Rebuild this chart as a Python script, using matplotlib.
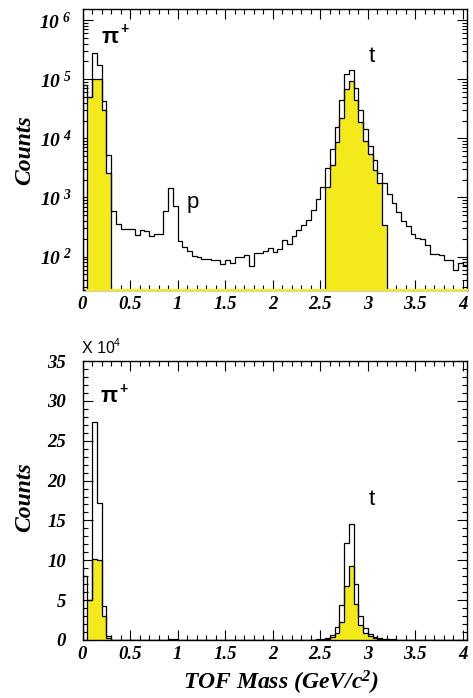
import numpy as np
import matplotlib
matplotlib.use("Agg")
import matplotlib.pyplot as plt
from matplotlib.ticker import LogLocator, FuncFormatter, MultipleLocator, NullFormatter

plt.rcParams['mathtext.fontset'] = 'custom'
plt.rcParams['mathtext.rm'] = 'Liberation Serif:bold:italic'
plt.rcParams['mathtext.it'] = 'Liberation Serif:bold:italic'
plt.rcParams['mathtext.bf'] = 'Liberation Serif:bold:italic'

# ---------------- data ----------------
bin_edges = np.round(np.arange(82) * 0.05, 2)  # 0 .. 4.05 GeV/c^2

total_counts = [
    8.0e4, 5.0e4, 2.74e5, 1.72e5, 4.3e4, 5.2e3, 580, 355, 297, 297,
    290, 233, 283, 272, 227, 240, 240, 596, 1450, 705,
    180, 144, 122, 103, 98, 91, 92, 88, 88, 74,
    86, 77, 98, 100, 105, 70, 114, 114, 122, 137,
    120, 135, 188, 166, 226, 279, 339, 422, 603, 933,
    1530, 3090, 6600, 1.58e4, 4.45e4, 1.22e5, 1.45e5, 7.0e4, 3.0e4, 1.45e4,
    7400, 4370, 2630, 1740, 1160, 813, 575, 407, 331, 240,
    209, 195, 155, 110, 110, 105, 89, 87, 60, 78,
    71,
]

selected_counts = [
    0, 5.0e4, 1.02e5, 1.0e5, 3.0e4, 2.6e3, 0, 0, 0, 0,
    0, 0, 0, 0, 0, 0, 0, 0, 0, 0,
    0, 0, 0, 0, 0, 0, 0, 0, 0, 0,
    0, 0, 0, 0, 0, 0, 0, 0, 0, 0,
    0, 0, 0, 0, 0, 0, 0, 0, 0, 0,
    0, 1510, 3550, 8500, 2.24e4, 6.8e4, 9.3e4, 4.5e4, 1.9e4, 9000,
    5400, 2950, 1780, 340, 0, 0, 0, 0, 0, 0,
    0, 0, 0, 0, 0, 0, 0, 0, 0, 0,
    0,
]

x_ticks = [0, 0.5, 1, 1.5, 2, 2.5, 3, 3.5, 4]
x_tick_labels = ["0", "0.5", "1", "1.5", "2", "2.5", "3", "3.5", "4"]
lin_scale = 1e4

total = np.array(total_counts, dtype=float)
sel = np.array(selected_counts, dtype=float)

YEL = '#f3e91b'
W, H = 473, 698
fig = plt.figure(figsize=(W / 100, H / 100), dpi=100)

def ax_rect(left, right, top, bottom):
    return [left / W, 1 - bottom / H, (right - left) / W, (bottom - top) / H]

tickfont = dict(family='Liberation Serif', weight='bold', style='italic', size=13.5)

def style_axes(ax, ypad, ysize):
    for s in ax.spines.values():
        s.set_linewidth(1.0)
    ax.tick_params(which='both', direction='in', top=True, right=True, width=0.8)
    ax.tick_params(which='major', length=7)
    ax.tick_params(which='minor', length=3.5)
    ax.tick_params(axis='x', pad=4)
    ax.tick_params(axis='y', pad=ypad)
    ax.set_xlim(0, 4.043)
    ax.set_xticks(x_ticks)
    ax.set_xticklabels(x_tick_labels)
    ax.xaxis.set_minor_locator(MultipleLocator(0.1))
    fp = matplotlib.font_manager.FontProperties
    for lab in ax.get_xticklabels():
        lab.set_fontproperties(fp(**tickfont))
    for lab in ax.get_yticklabels():
        lab.set_fontproperties(fp(**dict(tickfont, size=ysize)))

# ---------------- top (log) ----------------
ax1 = fig.add_axes(ax_rect(82.5, 467, 9.3, 290))
ylo, yhi = 27.2, 1.52e6
floor = 1.0
sel_f = np.where(sel > 0, sel, floor)
tot_f = np.where(total > 0, total, floor)
ax1.set_yscale('log')
ax1.stairs(sel_f, bin_edges, baseline=floor, fill=True, facecolor=YEL, edgecolor='none', zorder=2)
ax1.stairs(sel_f, bin_edges, baseline=floor, color='k', lw=0.9, zorder=3)
ax1.stairs(tot_f, bin_edges, baseline=floor, color='k', lw=0.9, zorder=4)
ax1.axhline(ylo, xmin=bin_edges[1] / 4.043, xmax=1, color=YEL, lw=1.6, zorder=5, clip_on=False)
ax1.set_ylim(ylo, yhi)
ax1.yaxis.set_major_locator(LogLocator(base=10, numticks=12))
ax1.yaxis.set_minor_locator(LogLocator(base=10, subs=np.arange(2, 10), numticks=12))
ax1.yaxis.set_minor_formatter(NullFormatter())
ax1.yaxis.set_major_formatter(FuncFormatter(lambda v, p: r'$10^{\ %d}$' % round(np.log10(v))))
style_axes(ax1, ypad=8, ysize=14)

# ---------------- bottom (linear) ----------------
ax2 = fig.add_axes(ax_rect(82.5, 467, 361, 640))
ax2.stairs(sel / lin_scale, bin_edges, baseline=0, fill=True, facecolor=YEL, edgecolor='none', zorder=2)
ax2.stairs(sel / lin_scale, bin_edges, baseline=0, color='k', lw=0.9, zorder=3)
ax2.stairs(total / lin_scale, bin_edges, baseline=0, color='k', lw=0.9, zorder=4)
ax2.set_ylim(0, 35)
ax2.set_yticks(np.arange(0, 36, 5))
ax2.yaxis.set_minor_locator(MultipleLocator(1))
style_axes(ax2, ypad=12, ysize=13.5)

# ---------------- texts ----------------
def ftext(px, py, s, **kw):
    fig.text(px / W, 1 - py / H, s, **kw)

titlefont = dict(family='Liberation Serif', weight='bold', style='italic', size=17)
ftext(25, 150, 'Counts', rotation=90, ha='center', va='center', **titlefont)
ftext(25, 497, 'Counts', rotation=90, ha='center', va='center', **titlefont)
ftext(281, 683, r'TOF Mass (GeV/c$^{2}$)', ha='center', va='center', **titlefont)

sans = dict(family='Liberation Sans')
ftext(102, 43, 'π', ha='left', va='baseline', size=16, weight='bold', **sans)
ftext(120, 33, '+', ha='left', va='baseline', size=10, weight='bold', **sans)
ftext(369, 62, 't', ha='left', va='baseline', size=16, **sans)
ftext(187, 208, 'p', ha='left', va='baseline', size=16, **sans)

ftext(101, 402, 'π', ha='left', va='baseline', size=16, weight='bold', **sans)
ftext(119, 393, '+', ha='left', va='baseline', size=10, weight='bold', **sans)
ftext(369, 505, 't', ha='left', va='baseline', size=16, **sans)

ftext(82, 353, 'X 10', ha='left', va='baseline', size=11.5, **sans)
ftext(114, 346, '4', ha='left', va='baseline', size=7.5, **sans)

fig.savefig('out.png', dpi=100)
